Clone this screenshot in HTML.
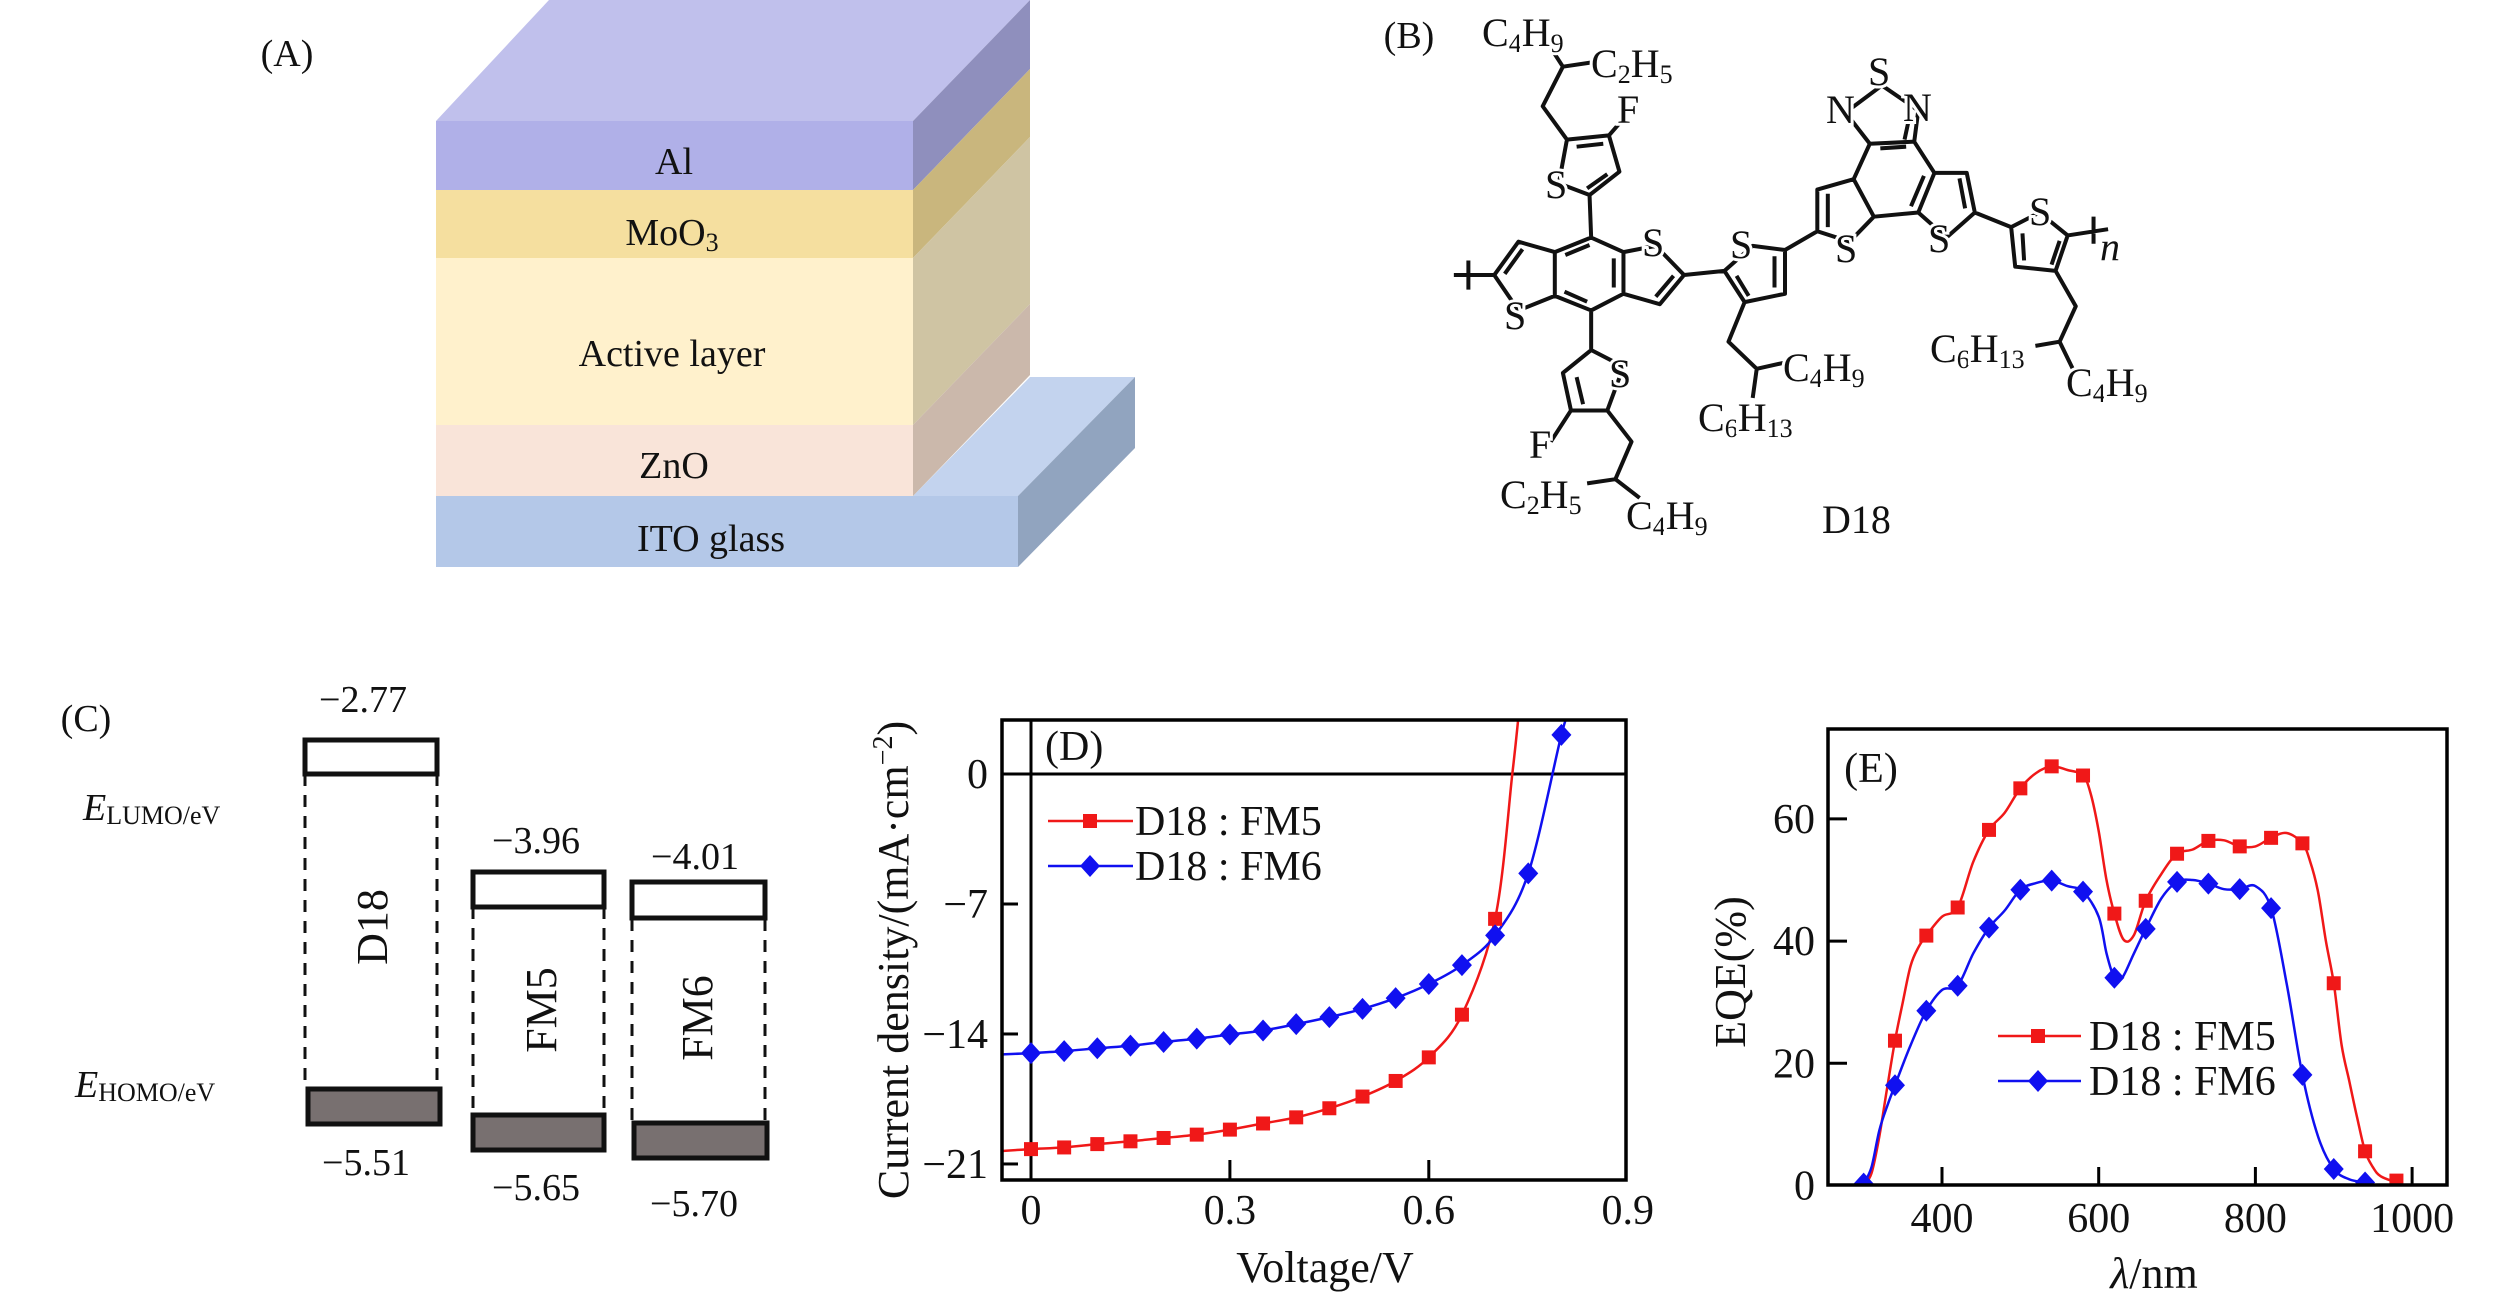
<!DOCTYPE html>
<html><head><meta charset="utf-8"><title>Device structure, D18, energy levels, J-V and EQE</title>
<style>
html,body{margin:0;padding:0;background:#fff;}
svg{display:block;font-family:"Liberation Serif",serif;}
.lbl{fill:#111;font-size:38px;}
.atom{fill:#111;font-size:40px;stroke:#fff;stroke-width:6px;paint-order:stroke;}
</style></head>
<body>
<svg id="fig" width="2520" height="1295" viewBox="0 0 2520 1295" xmlns="http://www.w3.org/2000/svg">
<rect width="2520" height="1295" fill="#fff"/>

<!-- Panel A -->
<g>
<text x="287" y="66" text-anchor="middle" class="lbl">(A)</text>
<polygon points="913,496 1018,496 1135,377 1030,377" fill="#c3d3ee"/>
<polygon points="1018,496 1018,567 1135,448 1135,377" fill="#91a4bf"/>
<rect x="436" y="496" width="582" height="71" fill="#b4c8e8"/>
<polygon points="436,121 913,121 1030,0 549,0" fill="#c0c0ec"/>
<polygon points="913,121 913,190 1030,69 1030,0" fill="#8f8fbd"/>
<polygon points="913,190 913,258 1030,137 1030,69" fill="#c9b67d"/>
<polygon points="913,258 913,425 1030,304 1030,137" fill="#cfc4a3"/>
<polygon points="913,425 913,496 1030,375 1030,304" fill="#cbb8ab"/>
<rect x="436" y="121" width="477" height="69" fill="#b0b0e8"/>
<rect x="436" y="190" width="477" height="68" fill="#f5df9f"/>
<rect x="436" y="258" width="477" height="167" fill="#fff1cc"/>
<rect x="436" y="425" width="477" height="71" fill="#f9e4d9"/>
<text x="674" y="174" text-anchor="middle" class="lbl" font-size="40">Al</text>
<text x="672" y="245" text-anchor="middle" class="lbl" font-size="40">MoO<tspan font-size="26" dy="6">3</tspan></text>
<text x="672" y="366" text-anchor="middle" class="lbl" font-size="40">Active layer</text>
<text x="674" y="478" text-anchor="middle" class="lbl" font-size="40">ZnO</text>
<text x="711" y="551" text-anchor="middle" class="lbl" font-size="40">ITO glass</text>
</g>

<!-- Panel B -->
<g>
<text x="1409" y="48" text-anchor="middle" class="lbl">(B)</text>
<g transform="translate(1260,0) scale(0.8077,0.4167)" fill="none" stroke="#111" stroke-linejoin="round">
<path vector-effect="non-scaling-stroke" stroke-width="4" d="M375,160 L410,150 M375,160 L360,115 M375,160 L350,255 L380,335
M380,335 L432,325 L445,412 L408,468 L370,440 Z M392,352 L425,345 M430,418 L405,452 M432,325 L450,285 M408,468 L410,570
M410,570 L450,605 L450,705 L410,745 L365,710 L365,605 Z M438,620 L438,690 M377,700 L405,724 M378,612 L408,588
M450,605 L490,590 L525,660 L495,730 L450,705 M512,662 L490,712
M365,605 L320,580 L290,660 L320,745 L365,710 M325,598 L303,657
M290,660 L240,660 M258,625 L258,695
M410,745 L410,840 M410,840 L450,880 L430,985 L385,985 L375,895 Z M392,905 L400,970 M385,985 L360,1060
M430,985 L460,1060 L440,1150 L470,1195 M440,1150 L405,1160
M525,660 L575,650 M575,650 L610,590 L650,600 L650,705 L600,725 Z M590,662 L605,710 M637,615 L637,690
M600,725 L580,820 L615,885 L650,870 M615,885 L610,955
M650,600 L690,555 M690,555 L690,455 L735,430 L760,520 L730,580 Z M703,545 L703,465
M735,430 L755,345 L810,340 L835,415 L815,510 L760,520 M768,356 L800,352 M822,422 L806,495
M755,345 L725,270 L770,205 L815,265 L810,340 M798,335 L805,272
M835,415 L875,415 L885,510 L850,570 L815,510 M866,428 L873,500
M885,510 L930,545 M930,545 L965,510 L1000,565 L985,650 L935,640 Z M944,560 L946,625 M990,578 L980,635
M1000,565 L1050,550 M1032,520 L1032,585
M985,650 L1010,735 L990,820 L960,830 M990,820 L1010,900"/>
</g>
<text x="1482" y="46" class="atom">C<tspan font-size="26" dy="6">4</tspan><tspan dy="-6">H</tspan><tspan font-size="26" dy="6">9</tspan></text>
<text x="1591" y="77" class="atom">C<tspan font-size="26" dy="6">2</tspan><tspan dy="-6">H</tspan><tspan font-size="26" dy="6">5</tspan></text>
<text x="1617" y="123" class="atom">F</text>
<text x="1545" y="198" class="atom">S</text>
<text x="1642" y="256" class="atom">S</text>
<text x="1730" y="258" class="atom">S</text>
<text x="1504" y="329" class="atom">S</text>
<text x="1826" y="123" class="atom">N</text>
<text x="1868" y="85" class="atom">S</text>
<text x="1903" y="121" class="atom">N</text>
<text x="1835" y="262" class="atom">S</text>
<text x="1928" y="252" class="atom">S</text>
<text x="2029" y="225" class="atom">S</text>
<text x="2100" y="260" class="atom" font-style="italic">n</text>
<text x="1609" y="387" class="atom">S</text>
<text x="1529" y="458" class="atom">F</text>
<text x="1500" y="508" class="atom">C<tspan font-size="26" dy="6">2</tspan><tspan dy="-6">H</tspan><tspan font-size="26" dy="6">5</tspan></text>
<text x="1626" y="529" class="atom">C<tspan font-size="26" dy="6">4</tspan><tspan dy="-6">H</tspan><tspan font-size="26" dy="6">9</tspan></text>
<text x="1783" y="381" class="atom">C<tspan font-size="26" dy="6">4</tspan><tspan dy="-6">H</tspan><tspan font-size="26" dy="6">9</tspan></text>
<text x="1698" y="431" class="atom">C<tspan font-size="26" dy="6">6</tspan><tspan dy="-6">H</tspan><tspan font-size="26" dy="6">13</tspan></text>
<text x="1930" y="362" class="atom">C<tspan font-size="26" dy="6">6</tspan><tspan dy="-6">H</tspan><tspan font-size="26" dy="6">13</tspan></text>
<text x="2066" y="396" class="atom">C<tspan font-size="26" dy="6">4</tspan><tspan dy="-6">H</tspan><tspan font-size="26" dy="6">9</tspan></text>
<text x="1822" y="533" class="atom" font-size="40">D18</text>
</g>

<!-- Panel C -->
<g stroke-width="5">
<text x="86" y="731" text-anchor="middle" class="lbl">(C)</text>
<text x="83" y="820" class="lbl" font-size="42"><tspan font-style="italic">E</tspan><tspan font-size="26" dy="4">LUMO/eV</tspan></text>
<text x="75" y="1097" class="lbl" font-size="42"><tspan font-style="italic">E</tspan><tspan font-size="26" dy="4">HOMO/eV</tspan></text>
<g stroke="#111" stroke-dasharray="12,9" stroke-width="3">
<line x1="305" y1="774" x2="305" y2="1087"/><line x1="437" y1="774" x2="437" y2="1087"/>
<line x1="473" y1="907" x2="473" y2="1113"/><line x1="604" y1="907" x2="604" y2="1113"/>
<line x1="632" y1="919" x2="632" y2="1121"/><line x1="765" y1="919" x2="765" y2="1121"/>
</g>
<rect x="305" y="740" width="132" height="34" fill="#fff" stroke="#111" stroke-width="5"/>
<rect x="308" y="1089" width="132" height="35" fill="#787070" stroke="#111" stroke-width="5"/>
<rect x="473" y="872" width="131" height="35" fill="#fff" stroke="#111" stroke-width="5"/>
<rect x="473" y="1115" width="131" height="35" fill="#787070" stroke="#111" stroke-width="5"/>
<rect x="632" y="882" width="133" height="36" fill="#fff" stroke="#111" stroke-width="5"/>
<rect x="634" y="1123" width="133" height="35" fill="#787070" stroke="#111" stroke-width="5"/>
<g class="lbl" font-size="42" text-anchor="middle">
<text x="363" y="712">−2.77</text>
<text x="536" y="853">−3.96</text>
<text x="695" y="869">−4.01</text>
<text x="366" y="1175">−5.51</text>
<text x="536" y="1200">−5.65</text>
<text x="694" y="1216">−5.70</text>
<text transform="translate(387,927) rotate(-90)" font-size="44">D18</text>
<text transform="translate(556,1010) rotate(-90)" font-size="44">FM5</text>
<text transform="translate(712,1018) rotate(-90)" font-size="44">FM6</text>
</g>
</g>

<g id="panelD"></g>
<g id="panelE"></g>
</svg>

<script>
// ---- Panel D data ----
const voltTicks = [0, 0.3, 0.6, 0.9];
const jTicks = [0, -7, -14, -21];
const vFM5 = [0,0.05,0.1,0.15,0.2,0.25,0.3,0.35,0.4,0.45,0.5,0.55,0.6,0.65,0.7];
const jFM5 = [-20.2,-20.11,-19.93,-19.78,-19.6,-19.42,-19.15,-18.82,-18.49,-18.0,-17.37,-16.53,-15.26,-12.96,-7.8];
const vFM5Tail = [0.726, 0.735];
const jFM5Tail = [0, 3];
const vFM6 = [0,0.05,0.1,0.15,0.2,0.25,0.3,0.35,0.4,0.45,0.5,0.55,0.6,0.65,0.7,0.75,0.8];
const jFM6 = [-15.03,-14.92,-14.77,-14.63,-14.43,-14.25,-14.03,-13.81,-13.47,-13.09,-12.65,-12.07,-11.31,-10.29,-8.69,-5.35,2.11];
const vFM6Tail = [0.81];
const jFM6Tail = [3];
const seriesNames = ["D18 : FM5", "D18 : FM6"];

// ---- Panel E data ----
const lamTicks = [400, 600, 800, 1000];
const eqeTicks = [0, 20, 40, 60];
const lamLine5 = [300,310,320,330,340,350,360,370,380,400,420,440,460,480,500,520,540,560,580,590,600,610,620,632,645,660,680,700,720,740,760,780,800,820,840,860,870,880,890,900,910,920,930,940,950,960,980,990];
const eqeLine5 = [0,2,8,16,23.7,30,36,39,40.9,44,45.5,53,58.2,61,65,67.5,68.6,68,67.1,64,58,50,44.5,40.2,41,46.6,51,54.3,55,56.4,56.5,55.5,55.5,56.9,57.7,56.0,53,48,40,33.1,23,17,11,5.6,3,1.5,0.5,0];
const lamMark5 = [340,380,420,460,500,540,580,620,660,700,740,780,820,860,900,940,980];
const eqeMark5 = [23.7,40.9,45.5,58.2,65.0,68.6,67.1,44.5,46.6,54.3,56.4,55.5,56.9,56.0,33.1,5.6,0.8];
const lamLine6 = [300,310,320,330,340,360,380,400,420,440,460,480,500,520,540,560,580,600,610,620,630,645,660,680,700,720,740,760,780,800,820,840,860,880,900,920,940];
const eqeLine6 = [0.3,3,9,13,16.4,23,28.6,32,32.7,38,42.2,45,48.4,49.5,49.9,49,48.1,44,38,34.0,34,38,42.0,47,49.7,50,49.4,48.5,48.5,49,45.4,33,18.1,8,2.7,1,0.5];
const lamMark6 = [300,340,380,420,460,500,540,580,620,660,700,740,780,820,860,900,940];
const eqeMark6 = [0.3,16.4,28.6,32.7,42.2,48.4,49.9,48.1,34.0,42.0,49.7,49.4,48.5,45.4,18.1,2.7,0.5];

const NS = "http://www.w3.org/2000/svg";
const RED = "#f01818", BLUE = "#1010f0";
function mk(tag, attrs, parent){ const e=document.createElementNS(NS,tag); for(const k in attrs) e.setAttribute(k,attrs[k]); parent.appendChild(e); return e; }
function smooth(pts){
  let d = "M"+pts[0][0].toFixed(1)+","+pts[0][1].toFixed(1);
  for(let i=0;i<pts.length-1;i++){
    const p0=pts[Math.max(i-1,0)], p1=pts[i], p2=pts[i+1], p3=pts[Math.min(i+2,pts.length-1)];
    const c1=[p1[0]+(p2[0]-p0[0])/6, p1[1]+(p2[1]-p0[1])/6];
    const c2=[p2[0]-(p3[0]-p1[0])/6, p2[1]-(p3[1]-p1[1])/6];
    d += " C"+c1[0].toFixed(1)+","+c1[1].toFixed(1)+" "+c2[0].toFixed(1)+","+c2[1].toFixed(1)+" "+p2[0].toFixed(1)+","+p2[1].toFixed(1);
  }
  return d;
}
function square(g,x,y,s,col){ return mk("rect",{x:x-s/2,y:y-s/2,width:s,height:s,fill:col},g); }
function diamond(g,x,y,w,h,col){ return mk("polygon",{points:`${x},${y-h/2} ${x+w/2},${y} ${x},${y+h/2} ${x-w/2},${y}`,fill:col},g); }

// ================= Panel D =================
(function(){
  const G = document.getElementById("panelD");
  const L=1002, R=1626, T=720, B=1180;
  const xD = v => 1031 + v*663;
  const yD = j => 774 - j*18.57;
  const defs = mk("defs",{},G);
  const cp = mk("clipPath",{id:"clipD"},defs);
  mk("rect",{x:L,y:T,width:R-L,height:B-T},cp);
  const zx = mk("line",{x1:xD(0),y1:T,x2:xD(0),y2:B,stroke:"#000","stroke-width":3},G);
  
  
  const zy = mk("line",{x1:L,y1:yD(0),x2:R,y2:yD(0),stroke:"#000","stroke-width":3},G);
  
  
  voltTicks.forEach(v=>{
    if(v>0 && v<0.9){
      const t=mk("line",{x1:xD(v),y1:B,x2:xD(v),y2:B-20,stroke:"#000","stroke-width":3},G);
      
      
    }
    const tl=mk("text",{x:xD(v),y:1224,"text-anchor":"middle","font-size":42,fill:"#111"},G);
    tl.textContent = String(v);
    
    
  });
  jTicks.forEach(j=>{
    if(j!==0){
      const t=mk("line",{x1:L,y1:yD(j),x2:L+16,y2:yD(j),stroke:"#000","stroke-width":3},G);
      
      
    }
    const tl=mk("text",{x:988,y:yD(j)+14,"text-anchor":"end","font-size":42,fill:"#111"},G);
    tl.textContent = j<0 ? "−"+Math.abs(j) : String(j);
    
    
  });
  const plot = mk("g",{"clip-path":"url(#clipD)"},G);
  
  
  const p5=[[xD(-0.045),yD(-20.3)]].concat(vFM5.map((v,i)=>[xD(v),yD(jFM5[i])]), vFM5Tail.map((v,i)=>[xD(v),yD(jFM5Tail[i])]));
  const l5=mk("path",{d:smooth(p5),fill:"none",stroke:RED,"stroke-width":2.5},plot);
  
  
  const p6=[[xD(-0.045),yD(-15.1)]].concat(vFM6.map((v,i)=>[xD(v),yD(jFM6[i])]), vFM6Tail.map((v,i)=>[xD(v),yD(jFM6Tail[i])]));
  const l6=mk("path",{d:smooth(p6),fill:"none",stroke:BLUE,"stroke-width":2.5},plot);
  
  
  vFM5.forEach((v,i)=>{
    const m=square(plot,xD(v),yD(jFM5[i]),14,RED);
    
    
  });
  vFM6.forEach((v,i)=>{
    const m=diamond(plot,xD(v),yD(jFM6[i]),20,22,BLUE);
    
    
  });
  const fr=mk("rect",{x:L,y:T,width:R-L,height:B-T,fill:"none",stroke:"#000","stroke-width":3.5},G);
  
  
  const pl=mk("text",{x:1045,y:760,"font-size":42,fill:"#111"},G);
  pl.textContent="(D)";
  
  
  const cols=[RED,BLUE];
  [821,866].forEach((ly,i)=>{
    const lg=mk("g",{},G);
    
    
    mk("line",{x1:1048,y1:ly,x2:1133,y2:ly,stroke:cols[i],"stroke-width":2.5},lg);
    if(i===0) square(lg,1090,ly,14,RED); else diamond(lg,1090,ly,20,22,BLUE);
    const t=mk("text",{x:1135,y:ly+14,"font-size":42,fill:"#111"},lg);
    t.textContent=seriesNames[i];
  });
  const yt=mk("text",{transform:"translate(908,960) rotate(-90)","text-anchor":"middle","font-size":44,fill:"#111"},G);
  yt.innerHTML='Current density/(mA·cm<tspan font-size="28" dy="-16">−2</tspan><tspan dy="16">)</tspan>';
  
  
  const xt=mk("text",{x:1325,y:1282,"text-anchor":"middle","font-size":44,fill:"#111"},G);
  xt.textContent="Voltage/V";
  
  
})();

// ================= Panel E =================
(function(){
  const G = document.getElementById("panelE");
  const L=1828, R=2447, T=729, B=1185;
  const xE = l => 1942 + (l-400)*0.7835;
  const yE = e => 1185.5 - e*6.11;
  const defs = mk("defs",{},G);
  const cp = mk("clipPath",{id:"clipE"},defs);
  mk("rect",{x:L,y:T,width:R-L,height:B-T},cp);
  lamTicks.forEach(l=>{
    const t=mk("line",{x1:xE(l),y1:B,x2:xE(l),y2:B-18,stroke:"#000","stroke-width":3},G);
    
    
    const tl=mk("text",{x:xE(l),y:1232,"text-anchor":"middle","font-size":42,fill:"#111"},G);
    tl.textContent=String(l);
    
    
  });
  eqeTicks.forEach(e=>{
    if(e>0){
      const t=mk("line",{x1:L,y1:yE(e),x2:L+19,y2:yE(e),stroke:"#000","stroke-width":3},G);
      
      
    }
    const tl=mk("text",{x:1815,y:yE(e)+14,"text-anchor":"end","font-size":42,fill:"#111"},G);
    tl.textContent=String(e);
    
    
  });
  const plot = mk("g",{"clip-path":"url(#clipE)"},G);
  
  
  const l5=mk("path",{d:smooth(lamLine5.map((l,i)=>[xE(l),yE(eqeLine5[i])])),fill:"none",stroke:RED,"stroke-width":2.5},plot);
  
  
  const l6=mk("path",{d:smooth(lamLine6.map((l,i)=>[xE(l),yE(eqeLine6[i])])),fill:"none",stroke:BLUE,"stroke-width":2.5},plot);
  
  
  lamMark5.forEach((l,i)=>{
    const m=square(plot,xE(l),yE(eqeMark5[i]),14,RED);
    
    
  });
  lamMark6.forEach((l,i)=>{
    const m=diamond(plot,xE(l),yE(eqeMark6[i]),20,22,BLUE);
    
    
  });
  const fr=mk("rect",{x:L,y:T,width:R-L,height:B-T,fill:"none",stroke:"#000","stroke-width":3.5},G);
  
  
  const pl=mk("text",{x:1871,y:782,"text-anchor":"middle","font-size":42,fill:"#111"},G);
  pl.textContent="(E)";
  
  
  const cols=[RED,BLUE];
  [1036,1081].forEach((ly,i)=>{
    const lg=mk("g",{},G);
    
    
    mk("line",{x1:1998,y1:ly,x2:2081,y2:ly,stroke:cols[i],"stroke-width":2.5},lg);
    if(i===0) square(lg,2038,ly,14,RED); else diamond(lg,2038,ly,20,22,BLUE);
    const t=mk("text",{x:2089,y:ly+14,"font-size":42,fill:"#111"},lg);
    t.textContent=seriesNames[i];
  });
  const yt=mk("text",{transform:"translate(1745,972) rotate(-90)","text-anchor":"middle","font-size":44,fill:"#111"},G);
  yt.textContent="EQE(%)";
  
  
  const xt=mk("text",{x:2154,y:1288,"text-anchor":"middle","font-size":44,fill:"#111"},G);
  xt.innerHTML='<tspan font-style="italic">λ</tspan>/nm';
  
  
})();
</script>
</body></html>
